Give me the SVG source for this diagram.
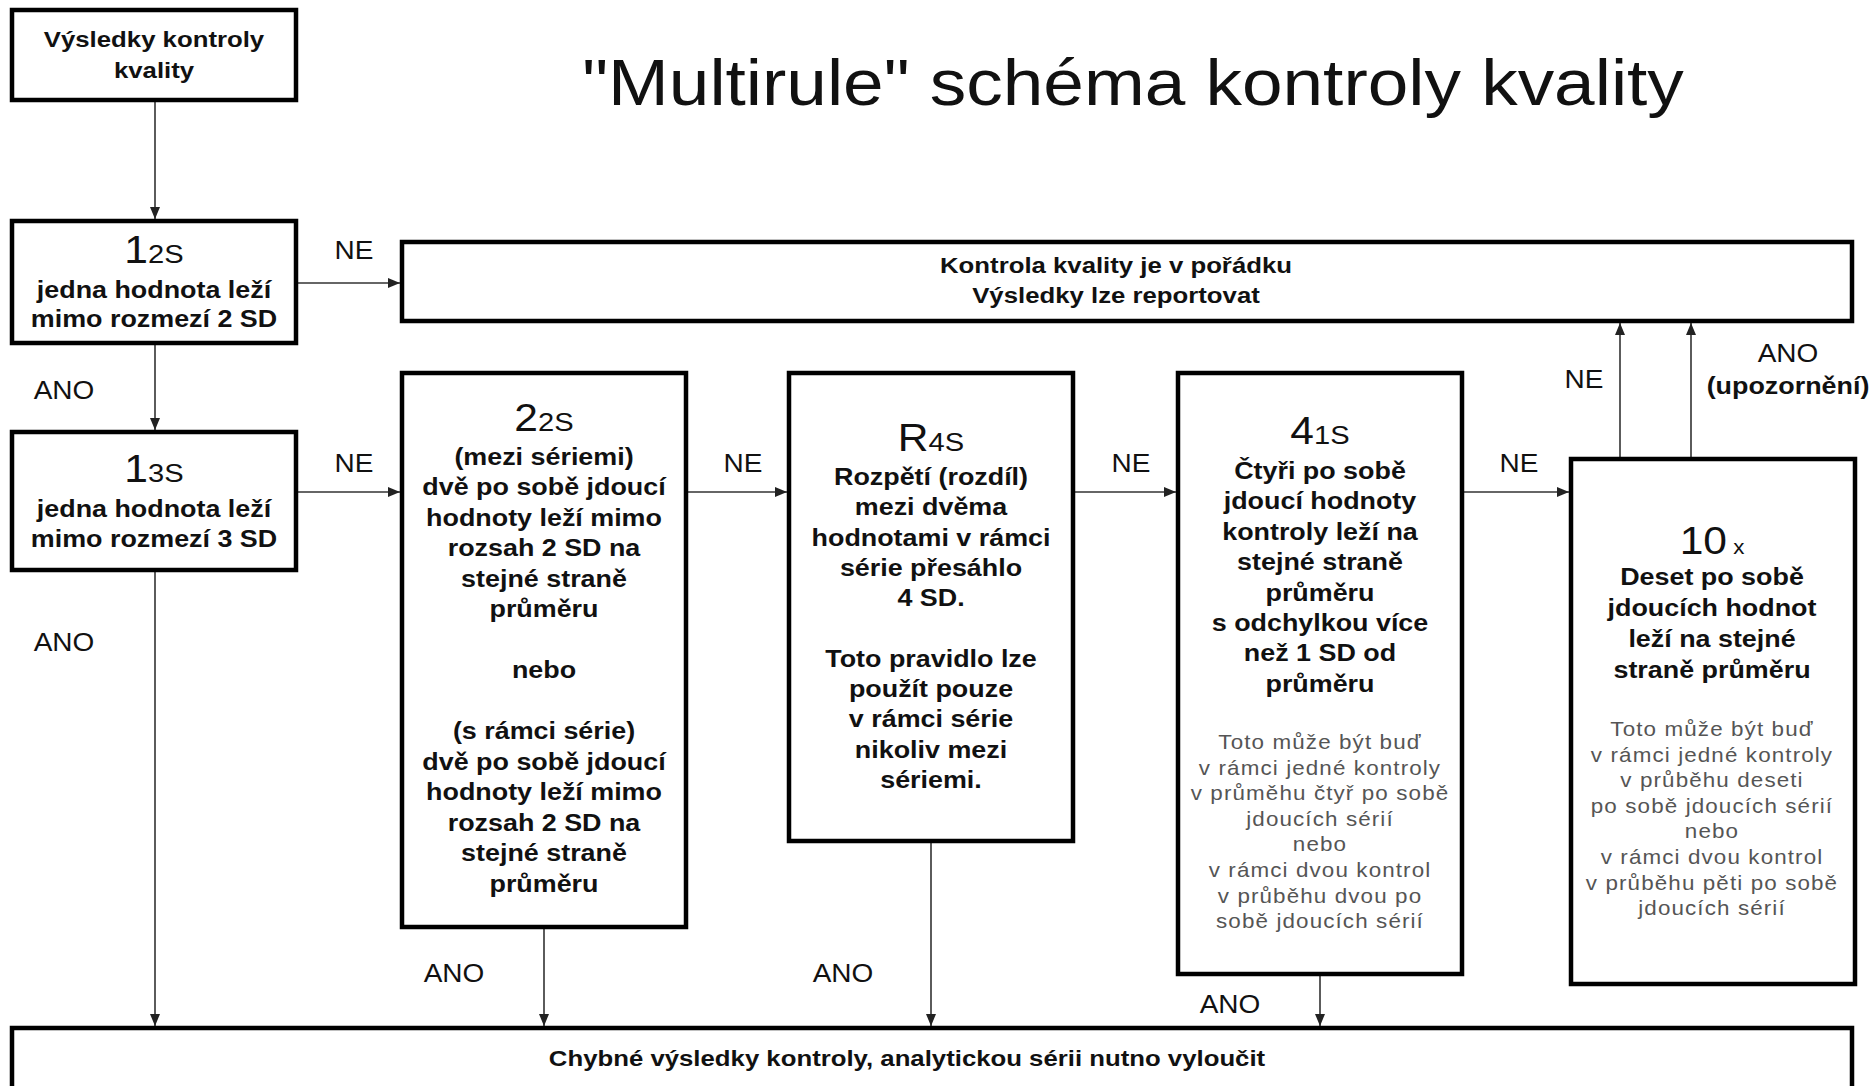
<svg xmlns="http://www.w3.org/2000/svg" width="1870" height="1086" viewBox="0 0 1870 1086">
<defs>
<style>
.box{fill:#fff;stroke:#000;stroke-width:4.5}
.t{font-family:"Liberation Sans",Arial,sans-serif;font-weight:bold;font-size:24px;fill:#111;text-anchor:middle}
.s{font-family:"Liberation Sans",Arial,sans-serif;font-size:20px;fill:#555;text-anchor:middle;letter-spacing:1px}
.l{font-family:"Liberation Sans",Arial,sans-serif;font-size:25px;fill:#111;text-anchor:middle}
.lb{font-family:"Liberation Sans",Arial,sans-serif;font-size:24px;font-weight:bold;fill:#111;text-anchor:middle}
.big{font-weight:normal;font-size:38px}
.sub{font-weight:normal;font-size:26px}
.title{font-family:"Liberation Sans",Arial,sans-serif;font-size:64px;fill:#111;text-anchor:middle}
.c{stroke:#333;stroke-width:1.6;fill:none;marker-end:url(#ah)}
</style>
<marker id="ah" markerWidth="12" markerHeight="10" refX="12" refY="5" orient="auto" markerUnits="userSpaceOnUse">
<path d="M0,0 L12,5 L0,10 z" fill="#222"/>
</marker>
</defs>
<rect width="1870" height="1086" fill="#fff"/>

<g id="title" transform="translate(1133 0) scale(1.14 1)">
<text class="title" x="0" y="105">"Multirule" schéma kontroly kvality</text>
</g>

<g id="connectors">
<line class="c" x1="155" y1="100" x2="155" y2="219"/>
<line class="c" x1="296" y1="283" x2="400" y2="283"/>
<line class="c" x1="155" y1="343" x2="155" y2="430"/>
<line class="c" x1="296" y1="492" x2="400" y2="492"/>
<line class="c" x1="155" y1="570" x2="155" y2="1026"/>
<line class="c" x1="686" y1="492" x2="787" y2="492"/>
<line class="c" x1="1073" y1="492" x2="1176" y2="492"/>
<line class="c" x1="1462" y1="492" x2="1569" y2="492"/>
<line class="c" x1="1620" y1="459" x2="1620" y2="323"/>
<line class="c" x1="1691" y1="459" x2="1691" y2="323"/>
<line class="c" x1="544" y1="927" x2="544" y2="1026"/>
<line class="c" x1="931" y1="841" x2="931" y2="1026"/>
<line class="c" x1="1320" y1="974" x2="1320" y2="1026"/>
</g>

<g id="labels">
<g transform="translate(354 0) scale(1.12 1)"><text class="l" x="0" y="259">NE</text></g>
<g transform="translate(354 0) scale(1.12 1)"><text class="l" x="0" y="472">NE</text></g>
<g transform="translate(743 0) scale(1.12 1)"><text class="l" x="0" y="472">NE</text></g>
<g transform="translate(1131 0) scale(1.12 1)"><text class="l" x="0" y="472">NE</text></g>
<g transform="translate(1519 0) scale(1.12 1)"><text class="l" x="0" y="472">NE</text></g>
<g transform="translate(1584 0) scale(1.12 1)"><text class="l" x="0" y="388">NE</text></g>
<g transform="translate(64 0) scale(1.12 1)"><text class="l" x="0" y="399">ANO</text></g>
<g transform="translate(64 0) scale(1.12 1)"><text class="l" x="0" y="651">ANO</text></g>
<g transform="translate(454 0) scale(1.12 1)"><text class="l" x="0" y="982">ANO</text></g>
<g transform="translate(843 0) scale(1.12 1)"><text class="l" x="0" y="982">ANO</text></g>
<g transform="translate(1230 0) scale(1.12 1)"><text class="l" x="0" y="1013">ANO</text></g>
<g transform="translate(1788 0) scale(1.12 1)"><text class="l" x="0" y="362">ANO</text><text class="lb" x="0" y="394">(upozornění)</text></g>
</g>

<g id="start">
<rect class="box" x="12" y="10" width="284" height="90"/>
<g transform="translate(154 0) scale(1.12 1)">
<text class="t" x="0" y="47" style="font-size:23px">Výsledky kontroly</text>
<text class="t" x="0" y="78" style="font-size:23px">kvality</text>
</g>
</g>

<g id="ok">
<rect class="box" x="402" y="242" width="1450" height="79"/>
<g transform="translate(1116 0) scale(1.12 1)">
<text class="t" x="0" y="273" style="font-size:23px">Kontrola kvality je v pořádku</text>
<text class="t" x="0" y="303" style="font-size:23px">Výsledky lze reportovat</text>
</g>
</g>

<g id="r12s">
<rect class="box" x="12" y="221" width="284" height="122"/>
<g transform="translate(154 0) scale(1.12 1)">
<text class="t" x="0" y="263"><tspan class="big">1</tspan><tspan class="sub">2S</tspan></text>
<text class="t" x="0" y="298">jedna hodnota leží</text>
<text class="t" x="0" y="327">mimo rozmezí 2 SD</text>
</g>
</g>

<g id="r13s">
<rect class="box" x="12" y="432" width="284" height="138"/>
<g transform="translate(154 0) scale(1.12 1)">
<text class="t" x="0" y="482"><tspan class="big">1</tspan><tspan class="sub">3S</tspan></text>
<text class="t" x="0" y="517">jedna hodnota leží</text>
<text class="t" x="0" y="547">mimo rozmezí 3 SD</text>
</g>
</g>

<g id="r22s">
<rect class="box" x="402" y="373" width="284" height="554"/>
<g transform="translate(544 0) scale(1.12 1)">
<text class="t" x="0" y="431"><tspan class="big">2</tspan><tspan class="sub">2S</tspan></text>
<text class="t" x="0" y="465">(mezi sériemi)</text>
<text class="t" x="0" y="495.5">dvě po sobě jdoucí</text>
<text class="t" x="0" y="526">hodnoty leží mimo</text>
<text class="t" x="0" y="556.5">rozsah 2 SD na</text>
<text class="t" x="0" y="587">stejné straně</text>
<text class="t" x="0" y="617.5">průměru</text>
<text class="t" x="0" y="678.5">nebo</text>
<text class="t" x="0" y="739.5">(s rámci série)</text>
<text class="t" x="0" y="770">dvě po sobě jdoucí</text>
<text class="t" x="0" y="800.5">hodnoty leží mimo</text>
<text class="t" x="0" y="831">rozsah 2 SD na</text>
<text class="t" x="0" y="861.5">stejné straně</text>
<text class="t" x="0" y="892">průměru</text>
</g>
</g>

<g id="r4s">
<rect class="box" x="789" y="373" width="284" height="468"/>
<g transform="translate(931 0) scale(1.12 1)">
<text class="t" x="0" y="451"><tspan class="big">R</tspan><tspan class="sub">4S</tspan></text>
<text class="t" x="0" y="485">Rozpětí (rozdíl)</text>
<text class="t" x="0" y="515.3">mezi dvěma</text>
<text class="t" x="0" y="545.6">hodnotami v rámci</text>
<text class="t" x="0" y="575.9">série přesáhlo</text>
<text class="t" x="0" y="606.2">4 SD.</text>
<text class="t" x="0" y="666.8">Toto pravidlo lze</text>
<text class="t" x="0" y="697.1">použít pouze</text>
<text class="t" x="0" y="727.4">v rámci série</text>
<text class="t" x="0" y="757.7">nikoliv mezi</text>
<text class="t" x="0" y="788">sériemi.</text>
</g>
</g>

<g id="r41s">
<rect class="box" x="1178" y="373" width="284" height="601"/>
<g transform="translate(1320 0) scale(1.12 1)">
<text class="t" x="0" y="444"><tspan class="big">4</tspan><tspan class="sub">1S</tspan></text>
<text class="t" x="0" y="479">Čtyři po sobě</text>
<text class="t" x="0" y="509.4">jdoucí hodnoty</text>
<text class="t" x="0" y="539.8">kontroly leží na</text>
<text class="t" x="0" y="570.2">stejné straně</text>
<text class="t" x="0" y="600.6">průměru</text>
<text class="t" x="0" y="631">s odchylkou více</text>
<text class="t" x="0" y="661.4">než 1 SD od</text>
<text class="t" x="0" y="691.8">průměru</text>
<text class="s" x="0" y="749">Toto může být buď</text>
<text class="s" x="0" y="774.6">v rámci jedné kontroly</text>
<text class="s" x="0" y="800.2">v průměhu čtyř po sobě</text>
<text class="s" x="0" y="825.8">jdoucích sérií</text>
<text class="s" x="0" y="851.4">nebo</text>
<text class="s" x="0" y="877">v rámci dvou kontrol</text>
<text class="s" x="0" y="902.6">v průběhu dvou po</text>
<text class="s" x="0" y="928.2">sobě jdoucích sérií</text>
</g>
</g>

<g id="r10x">
<rect class="box" x="1571" y="459" width="284" height="525"/>
<g transform="translate(1712 0) scale(1.12 1)">
<text class="t" x="0" y="554"><tspan class="big">10</tspan><tspan style="font-weight:normal;font-size:20px"> x</tspan></text>
<text class="t" x="0" y="585">Deset po sobě</text>
<text class="t" x="0" y="616">jdoucích hodnot</text>
<text class="t" x="0" y="647">leží na stejné</text>
<text class="t" x="0" y="678">straně průměru</text>
<text class="s" x="0" y="736">Toto může být buď</text>
<text class="s" x="0" y="761.6">v rámci jedné kontroly</text>
<text class="s" x="0" y="787.2">v průběhu deseti</text>
<text class="s" x="0" y="812.8">po sobě jdoucích sérií</text>
<text class="s" x="0" y="838.4">nebo</text>
<text class="s" x="0" y="864">v rámci dvou kontrol</text>
<text class="s" x="0" y="889.6">v průběhu pěti po sobě</text>
<text class="s" x="0" y="915.2">jdoucích sérií</text>
</g>
</g>

<g id="reject">
<rect class="box" x="12" y="1028" width="1840" height="80"/>
<g transform="translate(907 0) scale(1.12 1)">
<text class="t" x="0" y="1066" style="font-size:23px">Chybné výsledky kontroly, analytickou sérii nutno vyloučit</text>
</g>
</g>
</svg>
